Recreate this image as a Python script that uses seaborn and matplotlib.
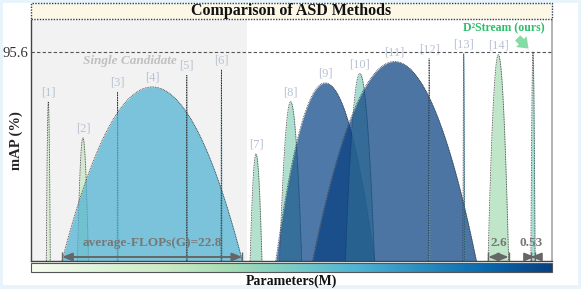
import numpy as np
import matplotlib
matplotlib.use("Agg")
import matplotlib.pyplot as plt
from matplotlib.colors import Normalize
from matplotlib.cm import ScalarMappable
from matplotlib.patches import Rectangle
import seaborn as sns

# ---- data ----
method_labels = ["[1]", "[2]", "[3]", "[4]", "[5]", "[6]", "[7]", "[8]",
                 "[9]", "[10]", "[11]", "[12]", "[13]", "[14]", "D²Stream"]
map_scores = [91.9, 89.2, 92.6, 93.0, 93.9, 94.3, 88.0, 91.9,
              93.3, 94.0, 94.9, 95.1, 95.5, 95.4, 95.6]          # mAP (%)
flops_g = [0.5, 1.4, 0.1, 22.8, 0.1, 0.1, 1.5, 2.8,
           12.5, 3.7, 20.7, 0.2, 0.2, 2.6, 0.53]                  # GFLOPs
params_m = [18, 22, 45, 50, 52, 48, 34, 35,
            79, 38, 80, 48, 55, 30, 38]                           # Params (M)
n_single = 6
best_map = 95.6

Y_LO, Y_HI = 80, 98
HALF_W_PER_G = 2.606 / 22.8   # half-width (x units) per GFLOP

sns.set_theme(style="white")
plt.rcParams["font.family"] = ["Liberation Serif", "DejaVu Serif"]

cmap = sns.color_palette("GnBu", as_cmap=True)
norm = Normalize(vmin=0, vmax=max(params_m))

fig = plt.figure(figsize=(5.81, 2.89), dpi=100)
fig.patch.set_facecolor("#e8f4fc")
fig.add_artist(Rectangle((3 / 581, 4 / 289), 575 / 581, 282 / 289,
                         transform=fig.transFigure, facecolor="white",
                         edgecolor="none", zorder=-10))

ax = fig.add_axes([31 / 581, 28 / 289, 521 / 581, 241 / 289])
ax.set_facecolor("white")

pos = np.arange(1, len(map_scores) + 1)
ax.axvspan(0.5, n_single + 0.75, color="#f2f2f2", zorder=0, lw=0)

t = np.linspace(-1, 1, 301)
for i, (p, m, f, pr) in enumerate(zip(pos, map_scores, flops_g, params_m)):
    w = f * HALF_W_PER_G
    xs = p + t * w
    ys = Y_LO + (m - Y_LO) * (1 - t ** 2)
    ax.fill_between(xs, Y_LO, ys, color=cmap(norm(pr)), alpha=0.72, lw=0,
                    zorder=2 + i * 0.01)
    ax.plot(xs, ys, color="#333333", ls=(0, (1, 1)), lw=0.6,
            zorder=2 + i * 0.01 + 0.005)
    if i < len(map_scores) - 1:
        ax.text(p, m + 0.7, method_labels[i], ha="center", va="center",
                fontsize=9, color="#b9c3d3", zorder=5)

ax.axhline(best_map, color="#555555", ls=(0, (3, 2)), lw=0.8, zorder=6)

ax.text(3.35, 94.95, "Single Candidate", ha="center", va="center",
        fontsize=9.5, style="italic", fontweight="bold", color="#c0c0c0")
ax.text(15.33, 97.35, "D²Stream (ours)", ha="right", va="center",
        fontsize=8.5, fontweight="bold", color="#2bbf6a")
ax.annotate("", xy=(14.93, 95.72), xytext=(14.5, 96.8),
            arrowprops=dict(arrowstyle="simple,head_width=0.9,head_length=0.6,tail_width=0.45",
                            color="#86dca5", lw=0))

# FLOPs width annotations
arrow_y = 80.3
for i, txt, tx in [(3, "average-FLOPs(G)=22.8", 4.0), (13, "2.6", 14.0),
                   (14, "0.53", 14.95)]:
    w = flops_g[i] * HALF_W_PER_G
    ax.annotate("", xy=(pos[i] - w, arrow_y), xytext=(pos[i] + w, arrow_y),
                arrowprops=dict(arrowstyle="<|-|>,head_length=0.5,head_width=0.2",
                                color="#666666", lw=1.4, shrinkA=0, shrinkB=0),
                zorder=7)
    ax.vlines([pos[i] - w, pos[i] + w], Y_LO, 80.7, color="#666666", lw=1, zorder=7)
    ax.text(tx, 81.35, txt, ha="center", va="center", fontsize=9.5,
            fontweight="bold", color="#777777", zorder=7)

ax.set_xlim(0.5, 15.55)
ax.set_ylim(Y_LO, Y_HI)
ax.set_xticks([])
ax.set_yticks([best_map])
ax.set_yticklabels(["95.6"], fontsize=10.5, color="#333333")
ax.tick_params(axis="y", length=0, pad=2)
ax.set_ylabel("mAP (%)", fontsize=10.5, fontweight="bold")
ax.yaxis.set_label_coords(-0.016, 0.5)
for s in ["left", "bottom"]:
    ax.spines[s].set_color("#444444")
    ax.spines[s].set_linewidth(1)
ax.spines["right"].set_color("#aaaaaa")
ax.spines["top"].set_visible(False)

# title box
fig.add_artist(Rectangle((31 / 581, 270 / 289), 521 / 581, 16 / 289,
                         transform=fig.transFigure, facecolor="#fdf8e6",
                         edgecolor="#2c3e66", lw=1, ls=(0, (1, 1))))
fig.text(291 / 581, 278 / 289, "Comparison of ASD Methods", ha="center",
         va="center", fontsize=11.5, fontweight="bold", color="#111111")

# colorbar for parameters
cax = fig.add_axes([31 / 581, 17 / 289, 521 / 581, 9 / 289])
cb = fig.colorbar(ScalarMappable(norm=norm, cmap=cmap), cax=cax,
                  orientation="horizontal")
cb.set_ticks([])
cb.outline.set_edgecolor("#555555")
cb.outline.set_linewidth(0.8)
fig.text(291 / 581, 8 / 289, "Parameters(M)", ha="center", va="center",
         fontsize=10, fontweight="bold", color="#111111")

fig.savefig("out.png", dpi=100)
